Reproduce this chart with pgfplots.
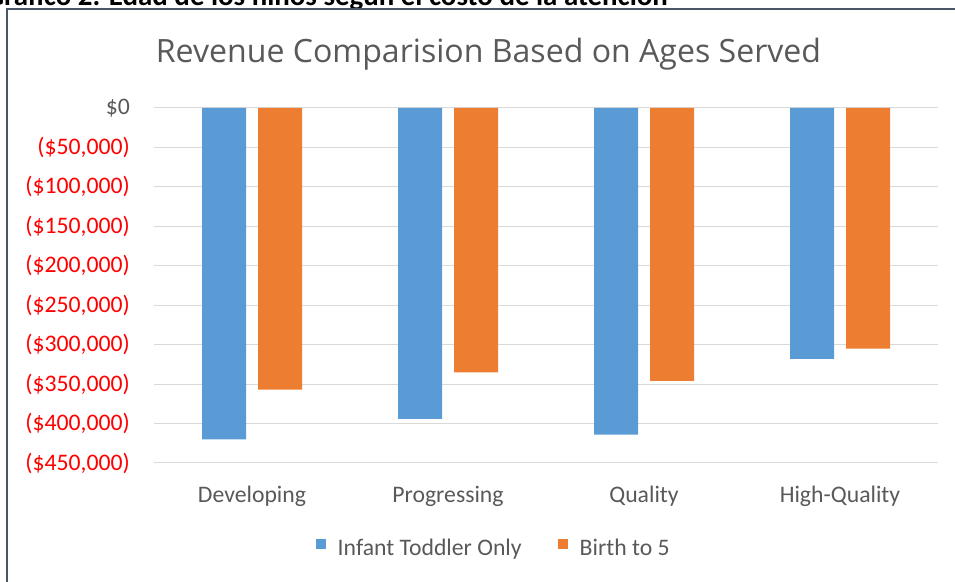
\documentclass[border=0pt]{standalone}
\usepackage{pgfplots}
\pgfplotsset{compat=1.18}
\usepackage{fontspec}
\setmainfont{Carlito}
\newfontfamily\titlefont{Open Sans}
\definecolor{cblue}{HTML}{5B9BD5}
\definecolor{corange}{HTML}{ED7D31}
\definecolor{cgrid}{HTML}{D9D9D9}
\definecolor{ctext}{HTML}{595959}
\definecolor{cframe}{HTML}{4A5568}
\definecolor{cred}{HTML}{FF0000}
\begin{document}
\begin{tikzpicture}
\path[use as bounding box] (0,0) rectangle (955bp,582bp);
\begin{scope}
\clip (0,0) rectangle (955bp,582bp);
\node[anchor=base east, inner sep=0pt, font=\bfseries\fontsize{29}{34}\selectfont] at (668bp,576bp) {Gráfico 2. Edad de los niños según el costo de la atención};
\end{scope}
\draw[cframe, line width=2bp] (7bp,-2bp) -- (7bp,573bp) -- (960bp,573bp);
\node[anchor=base, text=ctext, font=\titlefont\fontsize{32.2}{38}\selectfont, inner sep=0pt] at (488.5bp,519bp) {Revenue Comparision Based on Ages Served};
\begin{axis}[
  at={(154bp,119bp)}, anchor=south west,
  scale only axis, width=784bp, height=355bp,
  ybar=12bp, bar width=44bp,
  xmin=-0.5, xmax=3.5, ymin=-450000, ymax=0,
  xtick={0,1,2,3},
  xticklabels={Developing,Progressing,Quality,High-Quality},
  ytick={-450000,-400000,-350000,-300000,-250000,-200000,-150000,-100000,-50000,0},
  yticklabels={(\$450,000),(\$400,000),(\$350,000),(\$300,000),(\$250,000),(\$200,000),(\$150,000),(\$100,000),(\$50,000),\textcolor{ctext}{\$0}},
  scaled y ticks=false,
  major tick length=0pt,
  axis line style={draw=none},
  ymajorgrids, grid style={cgrid, line width=1bp},
  yticklabel style={anchor=east, inner sep=0pt, xshift=-24bp, text=cred, font=\fontsize{23.8}{28}\selectfont},
  xticklabel style={anchor=north, inner sep=0pt, yshift=-23bp, text=ctext, font=\fontsize{23.8}{28}\selectfont},
  legend columns=2,
  legend style={at={(0.432,-0.239)}, anchor=center, draw=none, fill=none, text=ctext, font=\fontsize{23.8}{28}\selectfont,
    nodes={inner sep=0pt},
    /tikz/every odd column/.append style={column sep=12bp},
    /tikz/every even column/.append style={column sep=36bp}},
  legend image code/.code={\fill[#1] (0bp,-1bp) rectangle (10bp,9bp);},
]
\addplot[fill=cblue, draw=none] coordinates {(0,-420000) (1,-394000) (2,-414000) (3,-318000)};
\addplot[fill=corange, draw=none] coordinates {(0,-357000) (1,-335000) (2,-346000) (3,-305000)};
\legend{Infant Toddler Only, Birth to 5}
\end{axis}
\end{tikzpicture}
\end{document}
